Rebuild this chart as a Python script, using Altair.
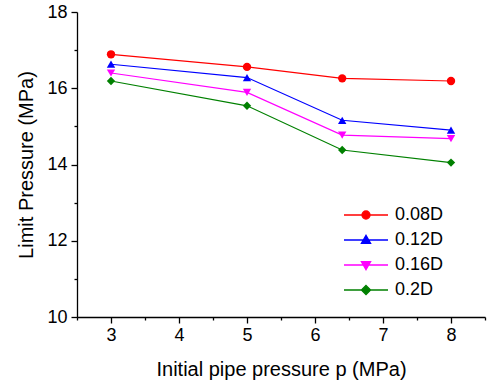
import altair as alt
import pandas as pd

# ---- data ----
pressure = [3, 5, 6.4, 8]
series = ["0.08D", "0.12D", "0.16D", "0.2D"]
v008 = [16.89, 16.56, 16.26, 16.19]
v012 = [16.63, 16.28, 15.16, 14.90]
v016 = [16.40, 15.89, 14.77, 14.68]
v020 = [16.19, 15.54, 14.38, 14.05]
colors = ["#FF0000", "#0000FF", "#FF00FF", "#008000"]
shapes = ["circle", "triangle-up", "triangle-down", "diamond"]
x_major_ticks = [3, 4, 5, 6, 7, 8]
x_minor_ticks = [2.5, 3.5, 4.5, 5.5, 6.5, 7.5, 8.5]
y_major_ticks = [10, 12, 14, 16, 18]
y_minor_ticks = [11, 13, 15, 17]

values = [v008, v012, v016, v020]
rows = []
for s, vals in zip(series, values):
    for p, v in zip(pressure, vals):
        rows.append({"pressure": p, "limit": v, "series": s})
df = pd.DataFrame(rows)

FONT = "Liberation Sans"

# legend symbols: a short line through the marker
legend_paths = [
    "M-5.5,0H5.5M-1,0A1,1,0,1,0,1,0A1,1,0,1,0,-1,0Z",
    "M-5.5,0H5.5M0,-1.15L1.15,0.85L-1.15,0.85Z",
    "M-5.5,0H5.5M0,1.15L1.15,-0.85L-1.15,-0.85Z",
    "M-5.5,0H5.5M0,-1.15L1.15,0L0,1.15L-1.15,0Z",
]

x_scale = alt.Scale(domain=[2.5, 8.5], nice=False, zero=False)
y_scale = alt.Scale(domain=[10, 18], nice=False, zero=False)
color_scale = alt.Scale(domain=series, range=colors)

x_major = alt.X("pressure:Q", scale=x_scale, axis=alt.Axis(
    orient="bottom", values=x_major_ticks, tickSize=6, labelFontSize=18,
    labelPadding=3, title="Initial pipe pressure p (MPa)", titleFontSize=20,
    titleFontWeight="normal", titlePadding=15, format="d"))
y_major = alt.Y("limit:Q", scale=y_scale, axis=alt.Axis(
    orient="left", values=y_major_ticks, tickSize=6, labelFontSize=18,
    labelPadding=4, title="Limit Pressure (MPa)", titleFontSize=20,
    titleFontWeight="normal", titlePadding=10, format="d"))
x_minor = alt.X("pressure:Q", scale=x_scale, axis=alt.Axis(
    orient="bottom", values=x_minor_ticks, tickSize=3, labels=False,
    domain=False, title=None))
y_minor = alt.Y("limit:Q", scale=y_scale, axis=alt.Axis(
    orient="left", values=y_minor_ticks, tickSize=3, labels=False,
    domain=False, title=None))

lines = alt.Chart(df).mark_line(strokeWidth=1.2).encode(
    x=x_major, y=y_major,
    color=alt.Color("series:N", scale=color_scale, legend=None),
)

points = alt.Chart(df).mark_point(filled=True, size=70, opacity=1).encode(
    x=x_minor, y=y_minor,
    color=alt.Color("series:N", scale=color_scale, legend=None),
    shape=alt.Shape("series:N", scale=alt.Scale(domain=series, range=shapes), legend=None),
)

leg = alt.Legend(
    orient="none", legendX=280, legendY=194, title=None,
    labelFont=FONT, labelFontSize=18, labelColor="black",
    symbolSize=64, symbolStrokeWidth=1.3, labelOffset=20, rowPadding=7,
    padding=0, symbolOpacity=1,
)

legend_layer = alt.Chart(df).transform_filter("false").mark_point(
    filled=True, size=64, opacity=1, strokeWidth=1.3).encode(
    fill=alt.Fill("series:N", scale=color_scale, legend=leg),
    stroke=alt.Stroke("series:N", scale=color_scale, legend=leg),
    shape=alt.Shape("series:N", scale=alt.Scale(domain=series, range=legend_paths), legend=leg),
)

chart = alt.layer(lines, points, legend_layer).resolve_scale(
    shape="independent", fill="independent", stroke="independent"
).resolve_legend(
    shape="independent", fill="independent", stroke="independent"
).resolve_axis(
    x="independent", y="independent"
).properties(
    width=408, height=305,
    autosize=alt.AutoSizeParams(type="none"),
    padding={"left": 77, "top": 12, "right": 2, "bottom": 72},
    background="white",
).configure_view(stroke=None).configure_axis(
    grid=False, domainColor="black", tickColor="black", labelColor="black",
    titleColor="black", domainWidth=1.3, tickWidth=1.3,
    labelFont=FONT, titleFont=FONT,
)

chart.save("out.html", embed_options={"renderer": "svg", "actions": False})
